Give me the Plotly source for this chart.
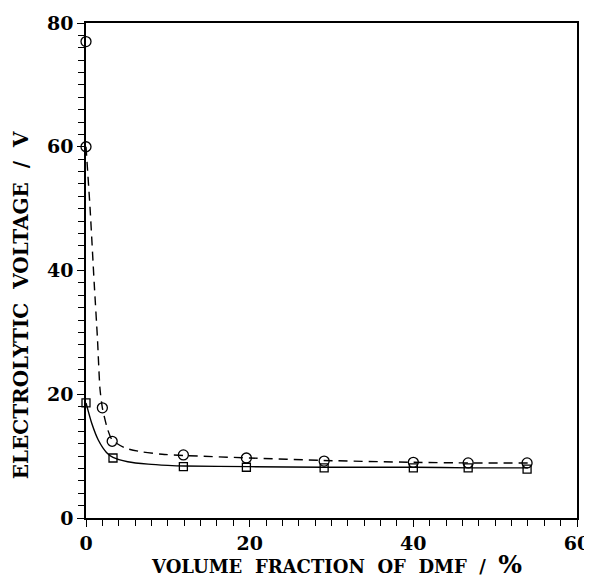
import plotly.graph_objects as go

# measured points
circle_x = [0, 0, 2.0, 3.2, 11.9, 19.6, 29.1, 40.0, 46.7, 53.9]
circle_y = [77.0, 60.0, 17.8, 12.4, 10.2, 9.7, 9.2, 9.0, 8.9, 8.9]
square_x = [0, 3.3, 11.9, 19.6, 29.1, 40.0, 46.7, 53.9]
square_y = [18.6, 9.7, 8.3, 8.2, 8.1, 8.1, 8.1, 7.9]

# fitted curves
dash_fit_x = [0, 0.5, 1.0, 1.4, 1.7, 2.0, 2.6, 3.2, 4.8, 6.8, 9.3, 12.0, 20.0, 29.0, 40.0, 47.0, 54.0]
dash_fit_y = [60.0, 50.0, 38.0, 29.0, 21.0, 17.8, 14.5, 12.6, 11.3, 10.7, 10.3, 10.1, 9.7, 9.3, 9.0, 8.9, 8.9]
solid_fit_x = [0, 0.7, 1.5, 2.5, 3.3, 5.1, 7.6, 10.0, 12.0, 20.0, 29.0, 40.0, 47.0, 54.0]
solid_fit_y = [18.6, 15.3, 12.6, 10.6, 9.8, 9.1, 8.7, 8.5, 8.4, 8.3, 8.2, 8.2, 8.1, 8.1]

x_ticks = [0, 20, 40, 60]
y_ticks = [0, 20, 40, 60, 80]

x_title = "VOLUME\u00a0 FRACTION\u00a0 OF\u00a0 DMF\u00a0 /\u00a0 <span style='font-size:25px'>%</span>"
y_title = "ELECTROLYTIC\u00a0 VOLTAGE\u00a0 /\u00a0 V"

FONT = "DejaVu Serif"

fig = go.Figure()
fig.add_trace(go.Scatter(x=dash_fit_x, y=dash_fit_y, mode="lines",
                         line=dict(color="black", width=1.4, dash="9px,6px", shape="spline", smoothing=0.6),
                         showlegend=False, hoverinfo="skip", cliponaxis=False))
fig.add_trace(go.Scatter(x=solid_fit_x, y=solid_fit_y, mode="lines",
                         line=dict(color="black", width=1.4, shape="spline", smoothing=0.6),
                         showlegend=False, hoverinfo="skip", cliponaxis=False))
fig.add_trace(go.Scatter(x=circle_x, y=circle_y, mode="markers",
                         marker=dict(symbol="circle-open", size=10, color="black", line=dict(width=1.3)),
                         showlegend=False, cliponaxis=False))
fig.add_trace(go.Scatter(x=square_x, y=square_y, mode="markers",
                         marker=dict(symbol="square-open", size=8, color="black", line=dict(width=1.3)),
                         showlegend=False, cliponaxis=False))

axis_common = dict(showgrid=False, zeroline=False, showline=True, linecolor="black", linewidth=1.5,
                   mirror=True, ticks="outside", ticklen=7, tickwidth=1.3, tickcolor="black",
                   automargin=False,
                   tickfont=dict(family=FONT, size=19, color="black", weight="bold"))

fig.update_xaxes(range=[0, 60], tickvals=x_ticks, ticktext=[str(v) for v in x_ticks],
                 minor=dict(dtick=2, tick0=0, ticks="outside", ticklen=6, tickwidth=1.2, tickcolor="black"),
                 **axis_common)
fig.update_yaxes(range=[0, 80], tickvals=y_ticks, ticktext=[str(v) for v in y_ticks],
                 minor=dict(dtick=2, tick0=0, ticks="outside", ticklen=6, tickwidth=1.2, tickcolor="black"),
                 **axis_common)

fig.add_annotation(text=x_title, xref="paper", yref="paper", x=0.511, y=-0.093,
                   xanchor="center", yanchor="middle", showarrow=False,
                   font=dict(family=FONT, size=18, color="black", weight="bold"))
fig.add_annotation(text=y_title, xref="paper", yref="paper", x=-0.132, y=0.43,
                   xanchor="center", yanchor="middle", showarrow=False, textangle=-90,
                   font=dict(family=FONT, size=20, color="black", weight="bold"))

# page body has an 8px default margin, so the figure is shrunk by 8px and shifted
fig.update_layout(width=584, height=573, margin=dict(l=78, r=15, t=15, b=63),
                  plot_bgcolor="white", paper_bgcolor="white")
fig.write_html("out.html")
